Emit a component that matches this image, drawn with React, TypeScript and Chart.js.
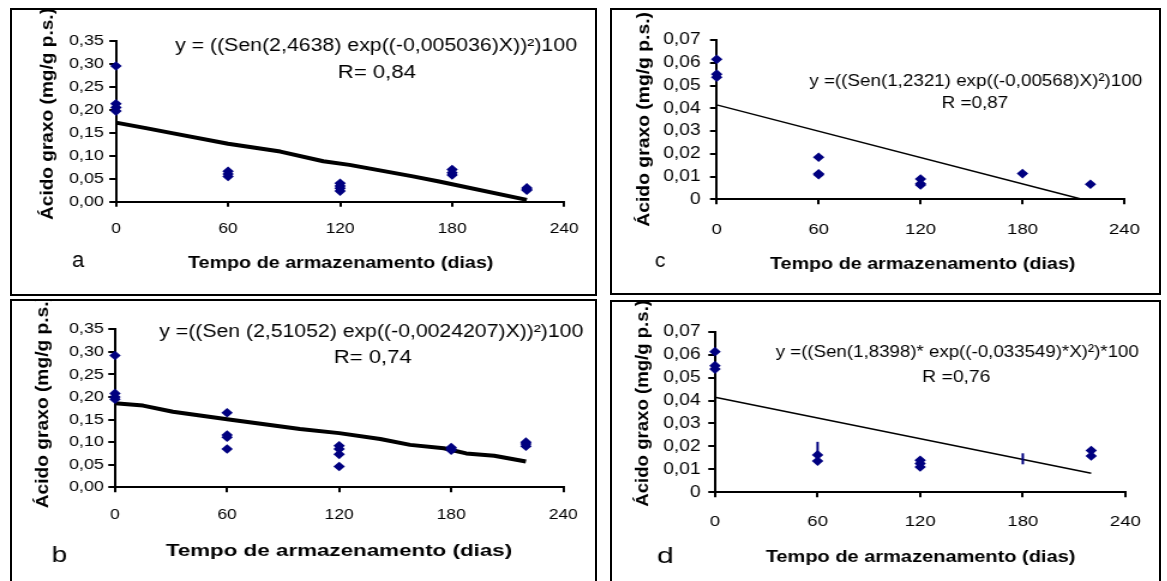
import React, { useEffect, useRef } from 'react';
import { Chart, registerables } from 'chart.js';

Chart.register(...registerables);

const FONT = '"Liberation Sans", Arial, Helvetica, sans-serif';
const NAVY = '#000080';
Chart.defaults.font.family = FONT;
Chart.defaults.color = '#000';

// ---------- axis ticks ----------
const xTickValues = [0, 60, 120, 180, 240];
const xTickLabels = ['0', '60', '120', '180', '240'];
const yTickValuesAB = [0, 0.05, 0.1, 0.15, 0.2, 0.25, 0.3, 0.35];
const yTickLabelsAB = ['0,00', '0,05', '0,10', '0,15', '0,20', '0,25', '0,30', '0,35'];
const yTickValuesCD = [0, 0.01, 0.02, 0.03, 0.04, 0.05, 0.06, 0.07];
const yTickLabelsCD = ['0', '0,01', '0,02', '0,03', '0,04', '0,05', '0,06', '0,07'];

// ---------- panel a ----------
const aDays = [0, 0, 0, 0, 60, 60, 60, 120, 120, 120, 120, 180, 180, 180, 220, 220, 220];
const aValues = [0.295, 0.213, 0.205, 0.197, 0.066, 0.06, 0.055, 0.04, 0.034, 0.029, 0.023, 0.07, 0.063, 0.058, 0.03, 0.027, 0.025];
const aFitDays = [0, 16, 30, 60, 88, 111, 125, 159, 173, 220];
const aFitValues = [0.172, 0.16, 0.149, 0.126, 0.109, 0.088, 0.08, 0.055, 0.044, 0.004];

// ---------- panel b ----------
const bDays = [0, 0, 0, 0, 60, 60, 60, 60, 120, 120, 120, 120, 180, 180, 180, 220, 220, 220];
const bValues = [0.292, 0.208, 0.2, 0.195, 0.165, 0.116, 0.111, 0.085, 0.092, 0.085, 0.073, 0.046, 0.088, 0.085, 0.082, 0.1, 0.096, 0.091];
const bFitDays = [0, 15, 31, 61, 99, 120, 142, 158, 176, 188, 203, 220];
const bFitValues = [0.186, 0.181, 0.1675, 0.15, 0.129, 0.12, 0.107, 0.094, 0.0864, 0.075, 0.07, 0.057];

// ---------- panel c ----------
const cDays = [0, 0, 0, 60, 60, 60, 120, 120, 120, 180, 220];
const cValues = [0.0615, 0.055, 0.0536, 0.0185, 0.0112, 0.0108, 0.0089, 0.0068, 0.0063, 0.0113, 0.0066];
const cFitDays = [0, 215];
const cFitValues = [0.0415, 0];

// ---------- panel d ----------
const dDays = [0, 0, 0, 60, 60, 120, 120, 120, 220, 220];
const dValues = [0.0613, 0.0552, 0.0537, 0.0163, 0.0136, 0.014, 0.0125, 0.011, 0.0182, 0.0158];
const dBarDays = [60, 180];
const dBarLow = [0.0135, 0.0122];
const dBarHigh = [0.022, 0.017];
const dFitDays = [0, 220];
const dFitValues = [0.0414, 0.0083];

const Y_TITLE = 'Ácido graxo (mg/g p.s.)';
const X_TITLE = 'Tempo de armazenamento (dias)';

const BW = 2;
const STRETCH = 1.2;

type Box = { left: number; top: number; right: number; bottom: number };
type TextSpec = { text: string; left: number; right: number; baseline: number; size: number; bold?: boolean };
type PanelCfg = {
  box: Box;
  plot: Box;
  yMax: number;
  yTicks: number[];
  yLabels: string[];
  days: number[];
  values: number[];
  fitDays: number[];
  fitValues: number[];
  fitWidth: number;
  bars?: { days: number[]; low: number[]; high: number[] };
  yTickFont: number;
  xTickFont: number;
  yLabelRight: number;
  xLabelCenter: number;
  texts: TextSpec[];
  yTitle: { baselineX: number; bottom: number; top: number; size: number };
};

const panels: PanelCfg[] = [
  {
    box: { left: 10, top: 8, right: 597, bottom: 296 },
    plot: { left: 116, right: 565, top: 40.7, bottom: 201.7 },
    yMax: 0.35, yTicks: yTickValuesAB, yLabels: yTickLabelsAB,
    days: aDays, values: aValues, fitDays: aFitDays, fitValues: aFitValues, fitWidth: 4,
    yTickFont: 15, xTickFont: 14.5, yLabelRight: 103.3, xLabelCenter: 229,
    texts: [
      { text: 'y = ((Sen(2,4638) exp((-0,005036)X))²)100', left: 175, right: 577, baseline: 51, size: 18 },
      { text: 'R= 0,84', left: 339, right: 416, baseline: 78, size: 18 },
      { text: 'a', left: 72, right: 85, baseline: 267, size: 22 },
      { text: X_TITLE, left: 188, right: 493, baseline: 268, size: 16, bold: true },
    ],
    yTitle: { baselineX: 53, bottom: 220, top: 8, size: 15 },
  },
  {
    box: { left: 10, top: 299, right: 597, bottom: 600 },
    plot: { left: 115, right: 563.3, top: 329.3, bottom: 487.3 },
    yMax: 0.35, yTicks: yTickValuesAB, yLabels: yTickLabelsAB,
    days: bDays, values: bValues, fitDays: bFitDays, fitValues: bFitValues, fitWidth: 4,
    yTickFont: 15, xTickFont: 14.5, yLabelRight: 103.3, xLabelCenter: 514.5,
    texts: [
      { text: 'y =((Sen (2,51052) exp((-0,0024207)X))²)100', left: 159.3, right: 583.3, baseline: 337, size: 18 },
      { text: 'R= 0,74', left: 335, right: 411.7, baseline: 363.3, size: 18 },
      { text: 'b', left: 53, right: 67, baseline: 562, size: 22 },
      { text: X_TITLE, left: 165.7, right: 511.7, baseline: 555.5, size: 16, bold: true },
    ],
    yTitle: { baselineX: 48.3, bottom: 508.3, top: 295, size: 15 },
  },
  {
    box: { left: 610, top: 8, right: 1161, bottom: 295 },
    plot: { left: 716.7, right: 1129.5, top: 40, bottom: 199.3 },
    yMax: 0.07, yTicks: yTickValuesCD, yLabels: yTickLabelsCD,
    days: cDays, values: cValues, fitDays: cFitDays, fitValues: cFitValues, fitWidth: 1.5,
    yTickFont: 16, xTickFont: 15.5, yLabelRight: 700, xLabelCenter: 229.5,
    texts: [
      { text: 'y =((Sen(1,2321) exp((-0,00568)X)²)100', left: 809.3, right: 1141.7, baseline: 86, size: 17 },
      { text: 'R =0,87', left: 942.7, right: 1007.7, baseline: 108.3, size: 17 },
      { text: 'c', left: 655, right: 665, baseline: 266.7, size: 21 },
      { text: X_TITLE, left: 770, right: 1075, baseline: 269, size: 16, bold: true },
    ],
    yTitle: { baselineX: 649, bottom: 226.7, top: 12, size: 15 },
  },
  {
    box: { left: 610, top: 300, right: 1161, bottom: 600 },
    plot: { left: 715, right: 1127.3, top: 331.7, bottom: 492.3 },
    yMax: 0.07, yTicks: yTickValuesCD, yLabels: yTickLabelsCD,
    days: dDays, values: dValues, fitDays: dFitDays, fitValues: dFitValues, fitWidth: 1.5,
    bars: { days: dBarDays, low: dBarLow, high: dBarHigh },
    yTickFont: 16, xTickFont: 15.5, yLabelRight: 700, xLabelCenter: 521.7,
    texts: [
      { text: 'y =((Sen(1,8398)* exp((-0,033549)*X)²)*100', left: 775.7, right: 1138.3, baseline: 356.7, size: 17 },
      { text: 'R =0,76', left: 923.3, right: 990, baseline: 381.7, size: 17 },
      { text: 'd', left: 657, right: 672, baseline: 563, size: 22 },
      { text: X_TITLE, left: 765.7, right: 1075, baseline: 561.7, size: 16, bold: true },
    ],
    yTitle: { baselineX: 648.3, bottom: 506.7, top: 300, size: 15 },
  },
];

function Panel({ cfg }: { cfg: PanelCfg }) {
  const ref = useRef<HTMLCanvasElement>(null);
  const innerLeft = cfg.box.left + BW;
  const innerTop = cfg.box.top + BW;
  const innerW = cfg.box.right - cfg.box.left - 2 * BW;
  const innerH = cfg.box.bottom - cfg.box.top - 2 * BW;
  const cw = Math.round(innerW / STRETCH);

  useEffect(() => {
    const canvas = ref.current;
    if (!canvas) return;
    const S = innerW / cw;
    const toCX = (fx: number) => (fx - innerLeft) / S;
    const toCY = (fy: number) => fy - innerTop;
    const L = toCX(cfg.plot.left);
    const R = toCX(cfg.plot.right);
    const T = toCY(cfg.plot.top);
    const B = toCY(cfg.plot.bottom);
    const yTickLen = 6.7 / S;
    const xTickLen = 5;
    const yPad = (cfg.plot.left - cfg.yLabelRight) / S - yTickLen - 0.5;
    const xPad = cfg.xLabelCenter - cfg.plot.bottom - xTickLen - 0.6 * cfg.xTickFont;

    const textPlugin = {
      id: 'panelText',
      afterDraw(chart: any) {
        const ctx: CanvasRenderingContext2D = chart.ctx;
        ctx.save();
        ctx.fillStyle = '#000';
        ctx.textAlign = 'left';
        ctx.textBaseline = 'alphabetic';
        for (const t of cfg.texts) {
          ctx.save();
          ctx.font = `${t.bold ? 'bold ' : ''}${t.size}px ${FONT}`;
          const m = ctx.measureText(t.text);
          const ink = m.actualBoundingBoxLeft + m.actualBoundingBoxRight;
          const left = toCX(t.left);
          const sx = (toCX(t.right) - left) / ink;
          ctx.translate(left, toCY(t.baseline));
          ctx.scale(sx, 1);
          ctx.fillText(t.text, m.actualBoundingBoxLeft, 0);
          ctx.restore();
        }
        const yt = cfg.yTitle;
        ctx.save();
        ctx.font = `bold ${yt.size}px ${FONT}`;
        const m = ctx.measureText(Y_TITLE);
        const ink = m.actualBoundingBoxLeft + m.actualBoundingBoxRight;
        const sx = (yt.bottom - yt.top) / ink;
        ctx.translate(toCX(yt.baselineX), toCY(yt.bottom));
        ctx.rotate(-Math.PI / 2);
        ctx.scale(sx, 1);
        ctx.fillText(Y_TITLE, m.actualBoundingBoxLeft, 0);
        ctx.restore();
        ctx.restore();
      },
    };

    const datasets: any[] = [
      {
        type: 'scatter',
        data: cfg.days.map((d, i) => ({ x: d, y: cfg.values[i] })),
        pointStyle: 'rectRot',
        pointRadius: 4.8,
        backgroundColor: NAVY,
        borderColor: NAVY,
        borderWidth: 0,
        showLine: false,
        clip: false,
      },
    ];
    if (cfg.bars) {
      const bars = cfg.bars;
      bars.days.forEach((d, i) => {
        datasets.push({
          type: 'line',
          data: [{ x: d, y: bars.low[i] }, { x: d, y: bars.high[i] }],
          borderColor: NAVY,
          borderWidth: 2,
          pointRadius: 0,
          clip: false,
        });
      });
    }
    datasets.push({
      type: 'line',
      data: cfg.fitDays.map((d, i) => ({ x: d, y: cfg.fitValues[i] })),
      borderColor: '#000',
      borderWidth: cfg.fitWidth,
      pointRadius: 0,
      tension: 0,
      borderJoinStyle: 'round',
      clip: false,
    });

    const chart = new Chart(canvas, {
      type: 'scatter',
      data: { datasets },
      options: {
        responsive: false,
        animation: false,
        events: [],
        layout: { padding: { left: 0, top: T, right: cw - R, bottom: 0 } },
        plugins: { legend: { display: false }, tooltip: { enabled: false } },
        scales: {
          x: {
            type: 'linear',
            position: 'bottom',
            min: 0,
            max: 240,
            afterFit: (s: any) => { s.height = innerH - B; },
            afterBuildTicks: (s: any) => { s.ticks = xTickValues.map((v) => ({ value: v })); },
            ticks: {
              autoSkip: false,
              maxRotation: 0,
              padding: xPad,
              color: '#000',
              font: { size: cfg.xTickFont, family: FONT },
              callback: (_v: any, i: number) => xTickLabels[i],
            },
            grid: { display: true, drawOnChartArea: false, drawTicks: true, tickLength: xTickLen, color: '#000', lineWidth: 2 },
            border: { display: true, color: '#000', width: 2 },
          },
          y: {
            type: 'linear',
            min: 0,
            max: cfg.yMax,
            afterFit: (s: any) => { s.width = L; },
            afterBuildTicks: (s: any) => { s.ticks = cfg.yTicks.map((v) => ({ value: v })); },
            ticks: {
              autoSkip: false,
              padding: yPad,
              color: '#000',
              font: { size: cfg.yTickFont, family: FONT },
              callback: (_v: any, i: number) => cfg.yLabels[i],
            },
            grid: { display: true, drawOnChartArea: false, drawTicks: true, tickLength: yTickLen, color: '#000', lineWidth: 2 },
            border: { display: true, color: '#000', width: 2 },
          },
        },
      } as any,
      plugins: [textPlugin],
    });
    return () => chart.destroy();
  }, []);

  return (
    <div
      style={{
        position: 'absolute',
        left: cfg.box.left,
        top: cfg.box.top,
        width: cfg.box.right - cfg.box.left,
        height: cfg.box.bottom - cfg.box.top,
        border: `${BW}px solid #000`,
        boxSizing: 'border-box',
        overflow: 'hidden',
        background: '#fff',
      }}
    >
      <canvas
        ref={ref}
        width={cw}
        height={innerH}
        style={{ display: 'block', width: `${innerW}px`, height: `${innerH}px` }}
      />
    </div>
  );
}

export default function App() {
  return (
    <div style={{ position: 'absolute', left: 0, top: 0, width: 1167, height: 581, overflow: 'hidden', background: '#fff' }}>
      {panels.map((p, i) => (
        <Panel key={i} cfg={p} />
      ))}
    </div>
  );
}
